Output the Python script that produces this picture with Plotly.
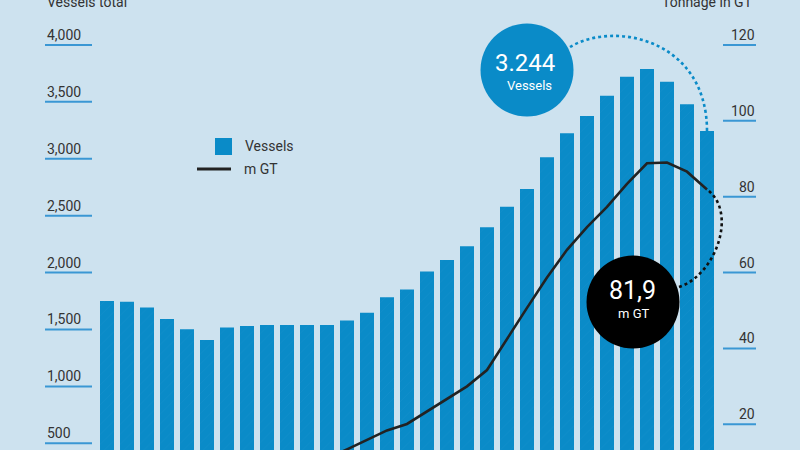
import plotly.graph_objects as go

# ---------------- data ----------------
years = [str(y) for y in range(1984, 2015)]
vessels = [1750, 1743, 1693, 1593, 1502, 1408, 1517, 1531, 1540, 1540, 1540,
           1540, 1578, 1646, 1784, 1852, 2010, 2110, 2231, 2398, 2578, 2734,
           3013, 3225, 3375, 3554, 3721, 3789, 3677, 3480, 3244]
tonnage = [7.8, 7.6, 7.4, 7.1, 6.9, 6.8, 7.0, 7.4, 8.0, 8.8, 9.8,
           11.0, 13.4, 16.0, 18.4, 20.1, 23.4, 26.9, 30.0, 34.3, 42.6, 50.7,
           58.7, 66.0, 72.0, 77.3, 83.4, 88.8, 89.0, 86.6, 81.9]
left_ticks = [500, 1000, 1500, 2000, 2500, 3000, 3500, 4000]
right_ticks = [20, 40, 60, 80, 100, 120]

W, H = 800, 450
X_RANGE = [-5.35, 34.65]
Y_RANGE = [441, 4395]
Y2_RANGE = [Y_RANGE[0] * 120 / 4000, Y_RANGE[1] * 120 / 4000]

BG = "#cde2ef"
BLUE = "#0a8bc8"
TEXT = "#333333"
FONT = "Roboto"


def px_x(i):
    return (i - X_RANGE[0]) / (X_RANGE[1] - X_RANGE[0]) * W


def px_y(v, rng):
    return H - (v - rng[0]) / (rng[1] - rng[0]) * H


def pp(x, y):
    """pixel -> paper"""
    return x / W, 1 - y / H


fig = go.Figure()
fig.add_trace(go.Bar(
    x=years, y=vessels, name="Vessels",
    marker=dict(color=BLUE, line=dict(width=0),
                pattern=dict(shape="/", bgcolor=BLUE, fgcolor="#2f9ad0",
                             fgopacity=0.25, size=7, solidity=0.1)),
    showlegend=False, yaxis="y"))
fig.add_trace(go.Scatter(
    x=years, y=tonnage, name="m GT", mode="lines",
    line=dict(color="#222222", width=2.6),
    showlegend=False, yaxis="y2"))

shapes = []
annotations = []

# left ticks (underline style)
for v in left_ticks:
    shapes.append(dict(type="line", xref="paper", yref="y",
                       x0=45 / W, x1=92 / W, y0=v, y1=v,
                       line=dict(color="#3a97d4", width=2)))
    annotations.append(dict(xref="paper", yref="y", x=45 / W, y=v,
                            xanchor="left", yanchor="bottom", yshift=0,
                            text=f"{v:,}", showarrow=False,
                            font=dict(family=FONT, size=14, color=TEXT)))
for v in right_ticks:
    shapes.append(dict(type="line", xref="paper", yref="y2",
                       x0=723 / W, x1=756 / W, y0=v, y1=v,
                       line=dict(color="#3a97d4", width=2)))
    annotations.append(dict(xref="paper", yref="y2", x=757 / W, y=v,
                            xanchor="right", yanchor="bottom", yshift=0,
                            text=str(v), showarrow=False,
                            font=dict(family=FONT, size=14, color=TEXT)))

# axis titles
annotations.append(dict(xref="paper", yref="paper", x=45 / W, y=1,
                        xanchor="left", yanchor="middle", yshift=-2,
                        text="Vessels total", showarrow=False,
                        font=dict(family=FONT, size=14, color=TEXT)))
annotations.append(dict(xref="paper", yref="paper", x=755 / W, y=1,
                        xanchor="right", yanchor="middle", yshift=-2,
                        text="Tonnage in GT", showarrow=False,
                        font=dict(family=FONT, size=14, color=TEXT)))

# legend (manual)
x0, y0 = pp(215, 138)
x1, y1 = pp(232, 155)
shapes.append(dict(type="rect", xref="paper", yref="paper",
                   x0=x0, x1=x1, y0=y1, y1=y0, fillcolor=BLUE,
                   line=dict(width=0)))
lx0, ly = pp(197, 169)
lx1, _ = pp(231, 169)
shapes.append(dict(type="line", xref="paper", yref="paper",
                   x0=lx0, x1=lx1, y0=ly, y1=ly,
                   line=dict(color="#222222", width=3)))
annotations.append(dict(xref="paper", yref="paper", x=243 / W, y=pp(0, 146)[1],
                        xanchor="left", yanchor="middle", text="Vessels",
                        showarrow=False,
                        font=dict(family=FONT, size=14, color=TEXT)))
annotations.append(dict(xref="paper", yref="paper", x=242 / W, y=pp(0, 169)[1],
                        xanchor="left", yanchor="middle", text="m GT",
                        showarrow=False,
                        font=dict(family=FONT, size=14, color=TEXT)))

# blue bubble
cx, cy, r = 527, 70, 46.5
a, b = pp(cx - r, cy - r)
c, d = pp(cx + r, cy + r)
shapes.append(dict(type="circle", xref="paper", yref="paper",
                   x0=a, x1=c, y0=d, y1=b, fillcolor=BLUE, line=dict(width=0)))
annotations.append(dict(xref="paper", yref="paper", x=525 / W, y=pp(0, 63)[1],
                        text=f"{vessels[-1] / 1000:.3f}",
                        showarrow=False, xanchor="center", yanchor="middle",
                        font=dict(family=FONT, size=24, color="white")))
annotations.append(dict(xref="paper", yref="paper", x=529 / W, y=pp(0, 85.5)[1],
                        text="Vessels", showarrow=False,
                        xanchor="center", yanchor="middle",
                        font=dict(family=FONT, size=13, color="white")))

# black bubble
cx, cy, r = 633, 302, 46.5
a, b = pp(cx - r, cy - r)
c, d = pp(cx + r, cy + r)
shapes.append(dict(type="circle", xref="paper", yref="paper",
                   x0=a, x1=c, y0=d, y1=b, fillcolor="#000000",
                   line=dict(width=0)))
annotations.append(dict(xref="paper", yref="paper", x=632 / W, y=pp(0, 290)[1],
                        text=f"{tonnage[-1]:.1f}".replace(".", ","),
                        showarrow=False, xanchor="center", yanchor="middle",
                        font=dict(family=FONT, size=25, color="white")))
annotations.append(dict(xref="paper", yref="paper", x=633 / W, y=pp(0, 313)[1],
                        text="m GT", showarrow=False,
                        xanchor="center", yanchor="middle",
                        font=dict(family=FONT, size=13, color="white")))


def path_px(points):
    (x0_, y0_), (x1_, y1_), (x2_, y2_), (x3_, y3_) = [pp(x, y) for x, y in points]
    return f"M{x0_},{y0_} C{x1_},{y1_} {x2_},{y2_} {x3_},{y3_}"


# dotted connector: blue bubble -> last bar top
n = len(vessels) - 1
ex, ey = px_x(n), px_y(vessels[-1], Y_RANGE)
shapes.append(dict(type="path", xref="paper", yref="paper",
                   path=path_px([(570, 47), (615, 20), (ex, 40), (ex, ey)]),
                   line=dict(color=BLUE, width=2.6, dash="dot")))
# dotted connector: black bubble -> line end
ex2, ey2 = px_x(n), px_y(tonnage[-1], Y2_RANGE)
shapes.append(dict(type="path", xref="paper", yref="paper",
                   path=path_px([(679, 287), (716, 275), (738, 212), (ex2, ey2)]),
                   line=dict(color="#111111", width=2.6, dash="dot")))

fig.update_layout(
    width=W, height=H,
    margin=dict(l=0, r=0, t=0, b=0),
    paper_bgcolor=BG, plot_bgcolor=BG,
    bargap=0.3,
    xaxis=dict(type="category", range=X_RANGE, visible=False, domain=[0, 1]),
    yaxis=dict(range=Y_RANGE, visible=False, showgrid=False, domain=[0, 1]),
    yaxis2=dict(range=Y2_RANGE, visible=False, showgrid=False,
                overlaying="y", side="right"),
    shapes=shapes, annotations=annotations,
    showlegend=False,
    hovermode=False,
)

fig.write_html(
    "out.html",
    config={"displayModeBar": False, "staticPlot": True},
    post_script="document.body.style.margin='0';document.body.style.padding='0';"
                "document.body.style.overflow='hidden';",
)
